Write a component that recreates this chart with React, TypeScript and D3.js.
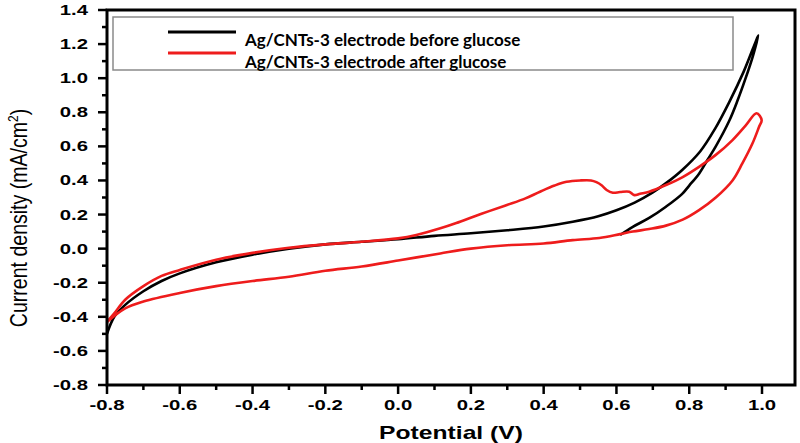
import * as d3 from 'd3'

const W = 800
const H = 443
const PLOT = { left: 107, right: 795, top: 10, bottom: 385 }

// Ag/CNTs-3 before glucose: anodic sweep then return
const beforePotential = [
  -0.8, -0.78, -0.75, -0.7, -0.65, -0.6, -0.5, -0.4, -0.3, -0.2, -0.1, 0.0, 0.1, 0.2, 0.3, 0.4,
  0.48, 0.55, 0.6, 0.65, 0.7, 0.74, 0.78, 0.83, 0.87, 0.91, 0.95, 0.99,
  0.975, 0.955, 0.933, 0.91, 0.873, 0.85, 0.827, 0.8, 0.78, 0.736, 0.69, 0.645, 0.61,
]
const beforeCurrent = [
  -0.5, -0.4, -0.33, -0.25, -0.19, -0.145, -0.08, -0.035, 0.0, 0.025, 0.04, 0.055, 0.075, 0.09, 0.108, 0.13,
  0.158, 0.19, 0.225, 0.27, 0.33, 0.39, 0.46, 0.57, 0.7, 0.86, 1.04, 1.25,
  1.13, 1.0, 0.87, 0.75, 0.6, 0.52, 0.44, 0.37, 0.32, 0.246, 0.18, 0.128, 0.08,
]

// Ag/CNTs-3 after glucose: closed loop
const afterPotential = [
  -0.8, -0.78, -0.75, -0.7, -0.65, -0.6, -0.5, -0.4, -0.3, -0.2, -0.1, 0.0, 0.05, 0.116, 0.16, 0.207,
  0.25, 0.299, 0.35, 0.39, 0.43, 0.463, 0.5, 0.53, 0.545, 0.56, 0.573, 0.59, 0.61, 0.635, 0.649, 0.665,
  0.69, 0.736, 0.782, 0.827, 0.873, 0.919, 0.956, 0.985, 0.999,
  0.992, 0.974, 0.946, 0.919, 0.873, 0.827, 0.782, 0.736, 0.69, 0.645, 0.61, 0.553, 0.48, 0.4,
  0.3, 0.2, 0.116, 0.0, -0.1, -0.2, -0.3, -0.4, -0.5, -0.6, -0.7, -0.75, -0.8,
]
const afterCurrent = [
  -0.43, -0.38, -0.3, -0.22, -0.16, -0.125, -0.065, -0.025, 0.005, 0.025, 0.04, 0.06, 0.08, 0.119, 0.15, 0.187,
  0.22, 0.256, 0.295, 0.334, 0.37, 0.392, 0.4, 0.4, 0.39, 0.37, 0.344, 0.328, 0.332, 0.334, 0.314, 0.322,
  0.334, 0.373, 0.42, 0.48, 0.55, 0.637, 0.725, 0.794, 0.754,
  0.715, 0.618, 0.5, 0.4, 0.3, 0.226, 0.17, 0.135, 0.115, 0.1, 0.085, 0.062, 0.05, 0.03,
  0.02, 0.0, -0.028, -0.07, -0.105, -0.13, -0.165, -0.19, -0.22, -0.26, -0.31, -0.35, -0.43,
]

const xTicks = [-0.8, -0.6, -0.4, -0.2, 0.0, 0.2, 0.4, 0.6, 0.8, 1.0]
const xMinor = [-0.7, -0.5, -0.3, -0.1, 0.1, 0.3, 0.5, 0.7, 0.9]
const yTicks = [-0.8, -0.6, -0.4, -0.2, 0.0, 0.2, 0.4, 0.6, 0.8, 1.0, 1.2, 1.4]
const yMinor = [-0.7, -0.5, -0.3, -0.1, 0.1, 0.3, 0.5, 0.7, 0.9, 1.1, 1.3]

const legendLabels = ['Ag/CNTs-3 electrode before glucose', 'Ag/CNTs-3 electrode after glucose']
const RED = '#ee1c1c'
const FONT = '"Liberation Sans", Arial, sans-serif'

export default function App() {
  const x = d3.scaleLinear().domain([-0.8, 1.1]).range([PLOT.left, PLOT.left + (1.9 / 1.8) * 655])
  const y = d3.scaleLinear().domain([-0.8, 1.4]).range([PLOT.bottom, PLOT.top])

  const line = d3.line<[number, number]>()
    .x(d => x(d[0]))
    .y(d => y(d[1]))
    .curve(d3.curveCatmullRom.alpha(0.5))

  const before = beforePotential.map((v, i) => [v, beforeCurrent[i]] as [number, number])
  const after = afterPotential.map((v, i) => [v, afterCurrent[i]] as [number, number])

  return (
    <svg width={W} height={H} style={{ position: 'absolute', left: 0, top: 0, background: '#fff' }}>
      {/* curves */}
      <path d={line(before) ?? ''} fill="none" stroke="#000" strokeWidth={2.6} strokeLinejoin="round" />
      <path d={line(after) ?? ''} fill="none" stroke={RED} strokeWidth={2.6} strokeLinejoin="round" />

      {/* frame */}
      <rect x={PLOT.left} y={PLOT.top} width={PLOT.right - PLOT.left} height={PLOT.bottom - PLOT.top}
        fill="none" stroke="#000" strokeWidth={3} />

      {/* y ticks */}
      {yTicks.map(t => (
        <g key={'y' + t}>
          <line x1={PLOT.left} x2={PLOT.left - 9} y1={y(t)} y2={y(t)} stroke="#000" strokeWidth={2.5} />
          <g transform={`translate(88,${y(t) + 5}) scale(1.45,1)`}>
            <text textAnchor="end" fontFamily={FONT} fontWeight="bold" fontSize={14} fill="#000">
              {t.toFixed(1)}
            </text>
          </g>
        </g>
      ))}
      {yMinor.map(t => (
        <line key={'ym' + t} x1={PLOT.left} x2={PLOT.left - 5} y1={y(t)} y2={y(t)} stroke="#000" strokeWidth={2.5} />
      ))}

      {/* x ticks */}
      {xTicks.map(t => (
        <g key={'x' + t}>
          <line x1={x(t)} x2={x(t)} y1={PLOT.bottom} y2={PLOT.bottom + 9} stroke="#000" strokeWidth={2.5} />
          <g transform={`translate(${x(t)},410) scale(1.45,1)`}>
            <text textAnchor="middle" fontFamily={FONT} fontWeight="bold" fontSize={14} fill="#000">
              {t.toFixed(1)}
            </text>
          </g>
        </g>
      ))}
      {xMinor.map(t => (
        <line key={'xm' + t} x1={x(t)} x2={x(t)} y1={PLOT.bottom} y2={PLOT.bottom + 5} stroke="#000" strokeWidth={2.5} />
      ))}

      {/* axis titles */}
      <g transform={`translate(${(PLOT.left + PLOT.right) / 2},439) scale(1.37,1)`}>
        <text textAnchor="middle" fontFamily={FONT} fontWeight="bold" fontSize={18} fill="#000">Potential (V)</text>
      </g>
      <g transform="translate(27,218) rotate(-90) scale(0.85,1)">
        <text textAnchor="middle" fontFamily={FONT} fontSize={23} fill="#000">
          Current density (mA/cm<tspan fontSize={14} dy={-9}>2</tspan><tspan dy={9}>)</tspan>
        </text>
      </g>

      {/* legend */}
      <rect x={113} y={17} width={620} height={53} fill="none" stroke="#8a8a8a" strokeWidth={1.5} />
      <line x1={168} x2={236} y1={32} y2={32} stroke="#000" strokeWidth={3} />
      <line x1={168} x2={236} y1={53} y2={53} stroke={RED} strokeWidth={3} />
      <text x={245} y={46} fontFamily="Lato, sans-serif" fontWeight="bold" fontSize={17} fill="#000">{legendLabels[0]}</text>
      <text x={245} y={68} fontFamily="Lato, sans-serif" fontWeight="bold" fontSize={17} fill="#000">{legendLabels[1]}</text>
    </svg>
  )
}
